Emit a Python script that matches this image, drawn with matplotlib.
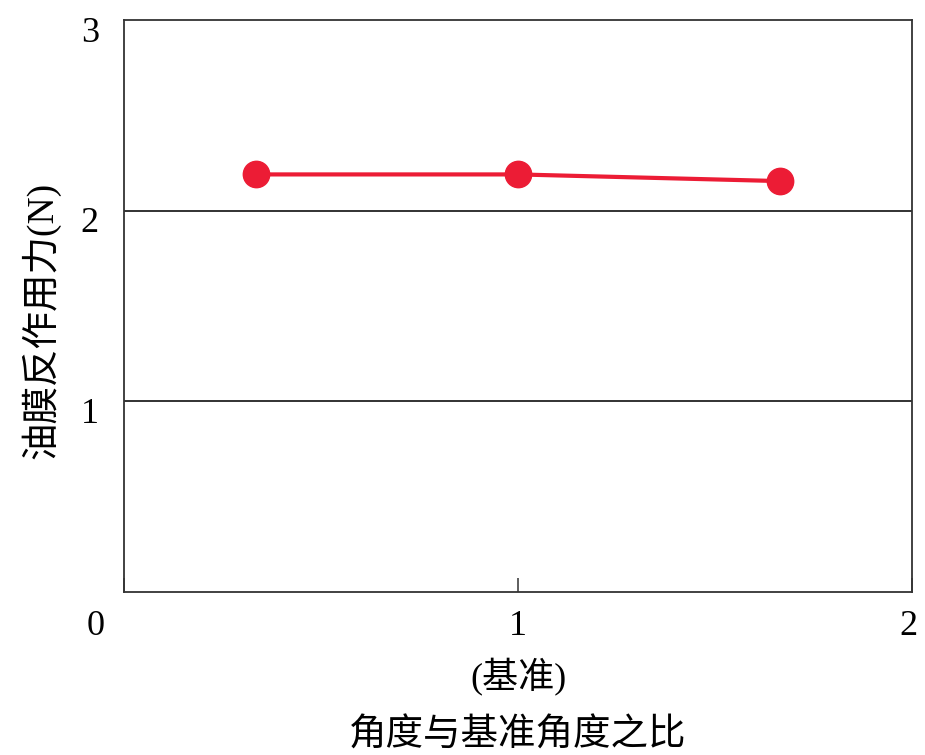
import matplotlib
matplotlib.use("Agg")
import matplotlib.pyplot as plt
from matplotlib.transforms import ScaledTranslation

# data
angle_ratio = [0.335, 1.0, 1.665]
oil_force = [2.19, 2.19, 2.155]
x_ticks = [0, 1, 2]
x_tick_labels = ["0", "1\n(基准)", "2"]
y_ticks = [1, 2, 3]
y_tick_labels = ["1", "2", "3"]

plt.rcParams['font.family'] = ['Liberation Serif', 'Noto Sans CJK SC']

fig = plt.figure(figsize=(9.25, 7.55), dpi=100)
ax = fig.add_axes([0.134, 0.216, 0.852, 0.7575])

# gridlines at 1 and 2
for yv in y_ticks[:-1]:
    ax.axhline(yv, color='#222222', linewidth=1.3, zorder=1)

ax.plot(angle_ratio, oil_force, color='#EC1C35', linewidth=3,
        marker='o', markersize=19, zorder=3)

ax.set_xlim(0, 2)
ax.set_ylim(0, 3)

ax.set_xticks(x_ticks)
ax.set_xticklabels(x_tick_labels, fontsize=26, linespacing=1.5)
ax.set_yticks(y_ticks)
ax.set_yticklabels(y_tick_labels, fontsize=26)

ax.tick_params(axis='x', direction='in', length=10, width=1.1, pad=13,
               color='#333333')
ax.tick_params(axis='y', length=0, pad=18)

# shift labels like the original
lbls = ax.get_xticklabels()
lbls[0].set_transform(lbls[0].get_transform() +
                      ScaledTranslation(-28/100, 0, fig.dpi_scale_trans))
lbls[2].set_transform(lbls[2].get_transform() +
                      ScaledTranslation(-4/100, 0, fig.dpi_scale_trans))
for lb in ax.get_yticklabels():
    lb.set_transform(lb.get_transform() +
                     ScaledTranslation(0, -9/100, fig.dpi_scale_trans))

for s in ax.spines.values():
    s.set_color('#333333')
    s.set_linewidth(1.3)

ax.set_xlabel("角度与基准角度之比", fontsize=27, labelpad=16)
ax.set_ylabel("油膜反作用力(N)", fontsize=27)
ax.yaxis.set_label_coords(-0.08, 0.475)

fig.savefig("out.png", dpi=100)
